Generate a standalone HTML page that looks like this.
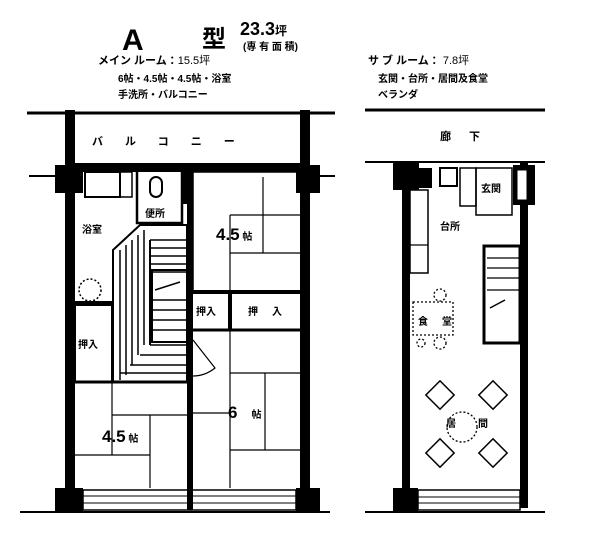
<!DOCTYPE html>
<html><head><meta charset="utf-8"><style>
html,body{margin:0;padding:0;background:#fff;}
svg{display:block;}
text{font-family:"Liberation Sans","Noto Sans CJK JP",sans-serif;font-weight:bold;fill:#000;}
</style></head><body>
<svg width="605" height="534" viewBox="0 0 605 534" xmlns="http://www.w3.org/2000/svg">
<!-- header -->
<text x="122" y="50" font-size="30">A</text>
<text x="202" y="47" font-size="24">型</text>
<text x="240" y="35" font-size="18">23.3<tspan font-size="12">坪</tspan></text>
<text x="243" y="50" font-size="10">(専 有 面 積)</text>
<text x="98" y="64" font-size="11">メイン ルーム：<tspan font-weight="normal">15.5坪</tspan></text>
<text x="118" y="82" font-size="10">6帖・4.5帖・4.5帖・浴室</text>
<text x="118" y="98" font-size="10">手洗所・バルコニー</text>
<text x="368" y="64" font-size="11">サ ブ ルーム： <tspan font-weight="normal">7.8坪</tspan></text>
<text x="378" y="82" font-size="10">玄関・台所・居間及食堂</text>
<text x="378" y="98" font-size="10">ベランダ</text>

<g stroke="#000" fill="none">
<!-- LEFT PLAN -->
<line x1="27" y1="113" x2="335" y2="113" stroke-width="3"/>
<line x1="29" y1="176" x2="60" y2="176" stroke-width="2"/>
<line x1="315" y1="176" x2="335" y2="176" stroke-width="2"/>
<rect x="65" y="110" width="10" height="400" fill="#000" stroke="none"/>
<rect x="300" y="110" width="10" height="400" fill="#000" stroke="none"/>
<rect x="65" y="163" width="245" height="9" fill="#000" stroke="none"/>
<rect x="55" y="165" width="28" height="28" fill="#000" stroke="none"/>
<rect x="296" y="165" width="24" height="28" fill="#000" stroke="none"/>
<rect x="187" y="170" width="6" height="340" fill="#000" stroke="none"/>
<!-- bottom veranda -->
<rect x="55" y="488" width="28" height="24" fill="#000" stroke="none"/>
<rect x="296" y="488" width="24" height="24" fill="#000" stroke="none"/>
<rect x="83" y="490" width="213" height="20" stroke-width="1.5"/>
<line x1="83" y1="496" x2="296" y2="496" stroke-width="1"/>
<line x1="83" y1="503" x2="296" y2="503" stroke-width="1"/>
<line x1="20" y1="512" x2="330" y2="512" stroke-width="2"/>
<!-- bath -->
<rect x="85" y="172" width="35" height="25" stroke-width="2"/>
<rect x="120" y="172" width="12" height="25" stroke-width="1.5"/>
<line x1="75" y1="303" x2="112" y2="303" stroke-width="4"/>
<circle cx="90" cy="290" r="11" stroke-dasharray="2,2" stroke-width="1.5"/>
<!-- toilet -->
<rect x="137" y="170" width="45" height="53" stroke-width="2.5"/>
<rect x="150" y="177" width="12" height="20" rx="6" stroke-width="2"/>
<rect x="182" y="172" width="7" height="32" fill="#000" stroke="none"/>
<!-- oshiire left -->
<rect x="75" y="305" width="37" height="77" stroke-width="2"/>
<line x1="75" y1="382" x2="187" y2="382" stroke-width="3"/>
<!-- stair hatching -->
<g stroke-width="1.5">
<polygon points="113,250 140,225 187,225 187,382 113,382" stroke-width="2"/>
<line x1="120" y1="250" x2="120" y2="380"/><line x1="126" y1="245" x2="126" y2="375"/>
<line x1="132" y1="240" x2="132" y2="365"/><line x1="138" y1="235" x2="138" y2="355"/>
<line x1="144" y1="230" x2="144" y2="345"/>
<line x1="150" y1="240" x2="187" y2="240"/><line x1="150" y1="248" x2="187" y2="248"/>
<line x1="150" y1="256" x2="187" y2="256"/><line x1="150" y1="264" x2="187" y2="264"/>
<line x1="152" y1="272" x2="187" y2="272"/><line x1="152" y1="300" x2="187" y2="300"/>
<line x1="152" y1="310" x2="187" y2="310"/><line x1="152" y1="320" x2="187" y2="320"/>
<line x1="152" y1="330" x2="187" y2="330"/><line x1="150" y1="345" x2="187" y2="345"/>
<line x1="140" y1="355" x2="187" y2="355"/><line x1="130" y1="365" x2="187" y2="365"/>
<line x1="120" y1="373" x2="187" y2="373"/>
<rect x="152" y="270" width="35" height="72" stroke-width="2"/>
<line x1="150" y1="240" x2="150" y2="345" stroke-width="2"/>
</g>
<polyline points="155,290 180,282" stroke-width="1.5"/>
<!-- right 4.5 -->
<rect x="193" y="172" width="110" height="120" stroke-width="1.5"/>
<line x1="230" y1="215" x2="303" y2="215" stroke-width="1.2"/>
<line x1="263" y1="177" x2="263" y2="253" stroke-width="1.2"/>
<line x1="230" y1="215" x2="230" y2="292" stroke-width="1.2"/>
<line x1="230" y1="253" x2="303" y2="253" stroke-width="1.2"/>
<line x1="193" y1="292" x2="303" y2="292" stroke-width="4"/>
<line x1="193" y1="330" x2="303" y2="330" stroke-width="3"/>
<line x1="230" y1="292" x2="230" y2="330" stroke-width="4"/>
<!-- 6 -->
<line x1="230" y1="330" x2="230" y2="488" stroke-width="1.2"/>
<line x1="230" y1="373" x2="303" y2="373" stroke-width="1.2"/>
<line x1="265" y1="373" x2="265" y2="450" stroke-width="1.2"/>
<line x1="193" y1="413" x2="230" y2="413" stroke-width="1.2"/>
<line x1="230" y1="450" x2="303" y2="450" stroke-width="1.2"/>
<path d="M193 340 L215 368 Q205 376 193 376" stroke-width="1.2"/>
<!-- bottom 4.5 -->
<line x1="112" y1="382" x2="112" y2="455" stroke-width="1.2"/>
<line x1="112" y1="415" x2="187" y2="415" stroke-width="1.2"/>
<line x1="150" y1="415" x2="150" y2="488" stroke-width="1.2"/>
<line x1="75" y1="455" x2="150" y2="455" stroke-width="1.2"/>

<!-- RIGHT PLAN -->
<line x1="365" y1="110" x2="545" y2="110" stroke-width="3"/>
<line x1="365" y1="162" x2="545" y2="162" stroke-width="2"/>
<rect x="393" y="163" width="26" height="27" fill="#000" stroke="none"/>
<rect x="402" y="163" width="8" height="345" fill="#000" stroke="none"/>
<rect x="520" y="163" width="8" height="345" fill="#000" stroke="none"/>
<rect x="513" y="165" width="22" height="40" fill="#000" stroke="none"/>
<rect x="517" y="170" width="10" height="30" fill="#fff" stroke="#000" stroke-width="1"/>
<rect x="419" y="168" width="13" height="20" fill="#000" stroke="none"/>
<rect x="440" y="168" width="17" height="18" stroke-width="2"/>
<rect x="460" y="168" width="16" height="38" stroke-width="1.5"/>
<rect x="476" y="168" width="36" height="47" stroke-width="1.5"/>
<rect x="410" y="190" width="18" height="83" stroke-width="1.5"/>
<line x1="410" y1="245" x2="428" y2="245" stroke-width="1.2"/>
<rect x="484" y="246" width="36" height="97" stroke-width="3"/>
<g stroke-width="1.2"><line x1="487" y1="258" x2="520" y2="258"/><line x1="487" y1="268" x2="520" y2="268"/><line x1="487" y1="278" x2="520" y2="278"/><line x1="487" y1="290" x2="520" y2="290"/></g>
<line x1="490" y1="308" x2="505" y2="300" stroke-width="1.5"/>
<rect x="393" y="488" width="25" height="24" fill="#000" stroke="none"/>
<rect x="418" y="490" width="102" height="20" stroke-width="1.5"/>
<line x1="418" y1="497" x2="520" y2="497"/>
<line x1="418" y1="503" x2="520" y2="503"/>
<line x1="365" y1="512" x2="545" y2="512" stroke-width="2"/>
<!-- dining -->
<g stroke-dasharray="2,2" stroke-width="1.3">
<rect x="413" y="302" width="40" height="33"/>
<circle cx="440" cy="295" r="6"/><circle cx="440" cy="343" r="6"/>
<circle cx="421" cy="343" r="4"/>
<circle cx="462" cy="427" r="15"/>
</g>
<g stroke-width="1.5">
<rect x="430" y="385" width="20" height="20" transform="rotate(45 440 395)"/>
<rect x="483" y="385" width="20" height="20" transform="rotate(45 493 395)"/>
<rect x="430" y="443" width="20" height="20" transform="rotate(45 440 453)"/>
<rect x="483" y="443" width="20" height="20" transform="rotate(45 493 453)"/>
</g>
</g>
<!-- labels -->
<text x="92" y="145" font-size="11" letter-spacing="22">バルコニー</text>
<text x="82" y="233" font-size="10">浴室</text>
<text x="145" y="217" font-size="10">便所</text>
<text x="216" y="240" font-size="17">4.5<tspan font-size="10"> 帖</tspan></text>
<text x="196" y="315" font-size="10">押入</text>
<text x="248" y="315" font-size="10" letter-spacing="14">押入</text>
<text x="78" y="348" font-size="10">押入</text>
<text x="228" y="418" font-size="17">6<tspan font-size="10" dx="14">帖</tspan></text>
<text x="102" y="442" font-size="17">4.5<tspan font-size="10"> 帖</tspan></text>
<text x="440" y="140" font-size="11" letter-spacing="18">廊下</text>
<text x="481" y="192" font-size="10">玄関</text>
<text x="440" y="230" font-size="10">台所</text>
<text x="418" y="325" font-size="10" letter-spacing="14">食堂</text>
<text x="446" y="427" font-size="10" letter-spacing="22">居間</text>
</svg>
</body></html>
